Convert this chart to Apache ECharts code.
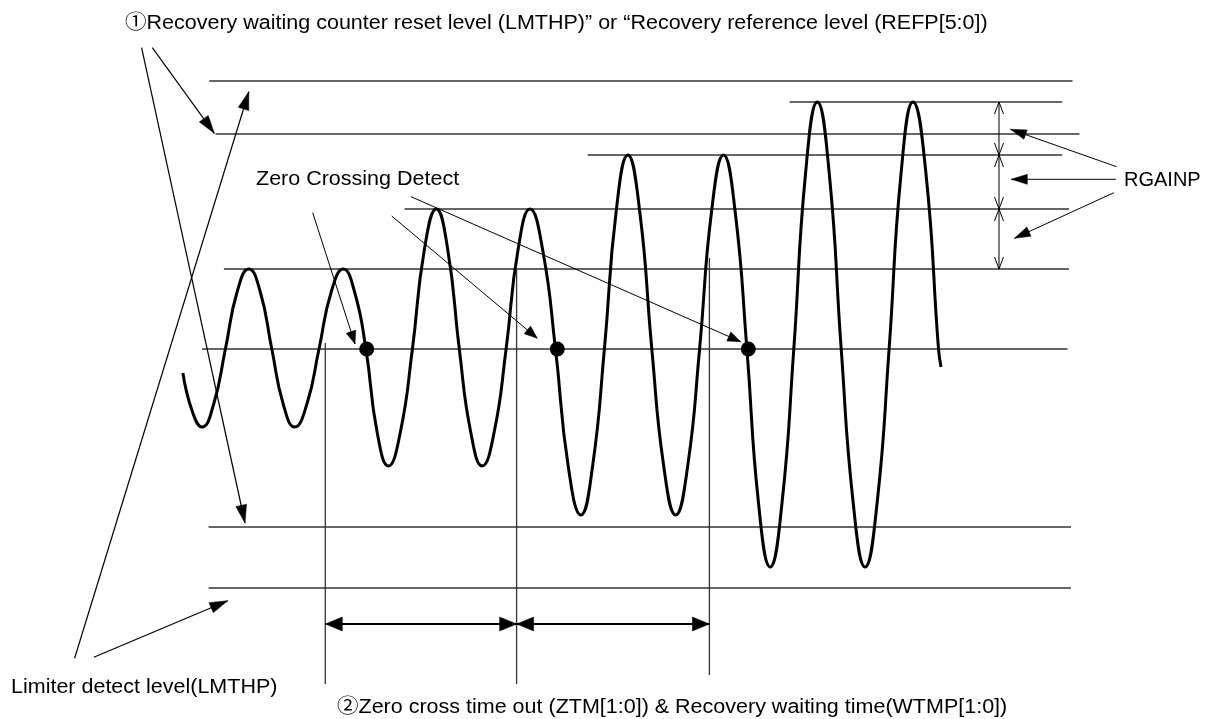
<!DOCTYPE html>
<html>
<head>
<meta charset="utf-8">
<script src="https://cdn.jsdelivr.net/npm/echarts@6/dist/echarts.min.js"></script>
<style>
html,body{margin:0;padding:0;background:#fff;}
#c{width:1208px;height:719px;}
</style>
</head>
<body>
<div id="c"></div>
<script>
// ---- Data (time units along x, signal level along y; 0 = zero-cross level) ----
// Waveform samples: [time, level]
const wave = [
  [182.9,-24],[192.5,-63],[202,-78],[213.7,-55],[225.4,0],[237.1,57],[248.8,80],
  [260.3,57],[271.8,0],[283.2,-55],[294.7,-78],[306.9,-55],[319,0],[331.2,57],[343.3,80],
  [354.6,57],[365.9,0],[377.1,-83],[388.4,-117],[400.4,-83],[412.4,0],[424.3,99],[436.3,140],
  [447.8,99],[459.3,0],[470.7,-83],[482.2,-117],[494.2,-83],[506.1,0],[518,99],[530,140],
  [542.7,99],[555.5,0],[568.2,-117],[580.9,-166],[592.6,-117],[604.4,0],[616.1,137],[627.8,194],
  [639.8,137],[651.8,0],[663.7,-117],[675.7,-166],[687.7,-117],[699.6,0],[711.5,137],[723.5,194],
  [735.2,137],[746.9,0],[758.5,-154],[770.2,-218],[782,-154],[793.8,0],[805.5,175],[817.3,247],
  [829.3,175],[841.2,0],[853.2,-154],[865.1,-218],[877.1,-154],[889.1,0],[901,175],[913,247],
  [926,175],[938.5,0],[941,-18]
];
// Zero crossing detect points: [time, level]
const zeroCross = [[366.7,0],[557.3,0],[748.3,0]];
// Horizontal reference levels: [level, fromTime, toTime]
const levelLines = [
  [268,209.3,1072.5],   // limiter detect level (upper)
  [215,215.5,1079.4],   // recovery reference level (upper)
  [247,789.7,1062.2],
  [194,587.7,1062.2],
  [140,404.5,1069],
  [80,223.9,1069],
  [0,202,1067.5],       // zero-cross level
  [-178,208.6,1071],    // recovery reference level (lower)
  [-239,208.6,1071]     // limiter detect level (lower)
];
// Vertical time markers: [time, fromLevel, toLevel]
const timeMarks = [
  [325.3,6,-335],
  [516.6,79,-335],
  [709.4,91,-326]
];
// Time interval arrows (ZTM / WTMP): [t1, t2, level]
const intervals = [
  [325.3,516.6,-275],
  [516.6,709.4,-275]
];
// RGAINP step dimension: [time, fromLevel, toLevel]
const gainSteps = [
  [999,247,194],
  [999,194,140],
  [999,140,80]
];
// Callout pointer arrows: [t1, v1, t2, v2] (head at second point)
const levelPointers = [
  [141.6,301.3,245,-174],
  [152.3,301.3,214.3,215.7],
  [74.6,-309.3,248.8,257.3],
  [93.8,-308.3,227.7,-251.7]
];
const zcPointers = [
  [312.7,136.3,355,5],
  [391.7,133,537.3,10.7],
  [411,152.3,740.7,7.3]
];
const gainPointers = [
  [1116.5,182.3,1010.5,219.7],
  [1115.8,169.7,1011.3,169.7],
  [1113.9,156.3,1014.4,110.7]
];
// Texts
const labelTop = '\u2460Recovery waiting counter reset level (LMTHP)\u201D or \u201CRecovery reference level (REFP[5:0])';
const labelZC = 'Zero Crossing Detect';
const labelGain = 'RGAINP';
const labelLimiter = 'Limiter detect level(LMTHP)';
const labelTime = '\u2461Zero cross time out (ZTM[1:0]) & Recovery waiting time(WTMP[1:0])';

// ---- Build segments ----
const hSegs = levelLines.map(d => [d[1], d[0], d[2], d[0]]);
const vSegs = timeMarks.map(d => [d[0], d[1], d[0], d[2]]);
const intervalSegs = intervals.map(d => [d[0], d[2], d[1], d[2]]);
const gainSegs = gainSteps.map(d => [d[0], d[1], d[0], d[2]]);

function head(tip, from, len, wid) {
  const dx = tip[0] - from[0], dy = tip[1] - from[1];
  const L = Math.sqrt(dx*dx + dy*dy) || 1;
  const ux = dx / L, uy = dy / L;
  const bx = tip[0] - ux*len, by = tip[1] - uy*len;
  const nx = -uy*wid/2, ny = ux*wid/2;
  return [[bx+nx, by+ny], [tip[0], tip[1]], [bx-nx, by-ny]];
}

function segRenderer(cfg) {
  return function (params, api) {
    const p1 = api.coord([api.value(0), api.value(1)]);
    const p2 = api.coord([api.value(2), api.value(3)]);
    const children = [{
      type: 'line',
      shape: {x1: p1[0], y1: p1[1], x2: p2[0], y2: p2[1]},
      style: {stroke: cfg.color, lineWidth: cfg.width}
    }];
    const ends = [];
    if (cfg.end) ends.push([p2, p1]);
    if (cfg.start) ends.push([p1, p2]);
    ends.forEach(e => {
      const pts = head(e[0], e[1], cfg.len, cfg.wid);
      if (cfg.open) {
        children.push({type: 'polyline', shape: {points: pts},
          style: {stroke: cfg.color, lineWidth: cfg.width, fill: null}});
      } else {
        children.push({type: 'polygon', shape: {points: pts},
          style: {fill: cfg.color, stroke: cfg.color, lineWidth: 0.5}});
      }
    });
    return {type: 'group', children: children};
  };
}

function segSeries(data, cfg) {
  return {
    type: 'custom',
    data: data,
    dimensions: ['x1','y1','x2','y2'],
    encode: {x: [0, 2], y: [1, 3]},
    renderItem: segRenderer(cfg),
    clip: false,
    silent: true,
    z: 2
  };
}

function label(text, x, y, sx) {
  return {type: 'text', x: x, y: y, scaleX: sx,
    style: {text: text, font: FONT, fill: '#000', verticalAlign: 'middle'}};
}

const chart = echarts.init(document.getElementById('c'), null, {renderer: 'canvas'});
const FONT = '20px "Liberation Sans", Arial, "Noto Sans CJK JP", sans-serif';
chart.setOption({
  animation: false,
  backgroundColor: '#fff',
  grid: {left: 0, right: 0, top: 0, bottom: 0},
  xAxis: {type: 'value', min: 0, max: 1208, show: false},
  yAxis: {type: 'value', min: -370, max: 349, show: false},
  series: [
    segSeries(hSegs, {color: '#333', width: 1.3}),
    segSeries(vSegs, {color: '#333', width: 1.3}),
    segSeries(intervalSegs, {color: '#000', width: 2, start: true, end: true, len: 17, wid: 14}),
    segSeries(gainSegs, {color: '#000', width: 1, start: true, end: true, open: true, len: 12, wid: 9}),
    segSeries(levelPointers, {color: '#000', width: 1.2, end: true, len: 18, wid: 11}),
    segSeries(zcPointers, {color: '#000', width: 1, end: true, len: 13, wid: 10}),
    segSeries(gainPointers, {color: '#000', width: 1, end: true, len: 16, wid: 10}),
    {
      type: 'line',
      data: wave,
      smooth: 0.5,
      showSymbol: false,
      silent: true,
      lineStyle: {color: '#000', width: 3},
      z: 3
    },
    {
      type: 'scatter',
      data: zeroCross,
      symbol: 'circle',
      symbolSize: 15,
      silent: true,
      itemStyle: {color: '#000', opacity: 1},
      z: 4
    }
  ],
  graphic: [
    label(labelTop, 125, 23, 1.075),
    label(labelZC, 256, 179, 1.075),
    label(labelGain, 1124, 180, 1),
    label(labelLimiter, 11, 687, 1.075),
    label(labelTime, 337, 707, 1.075)
  ]
});
</script>
</body>
</html>
